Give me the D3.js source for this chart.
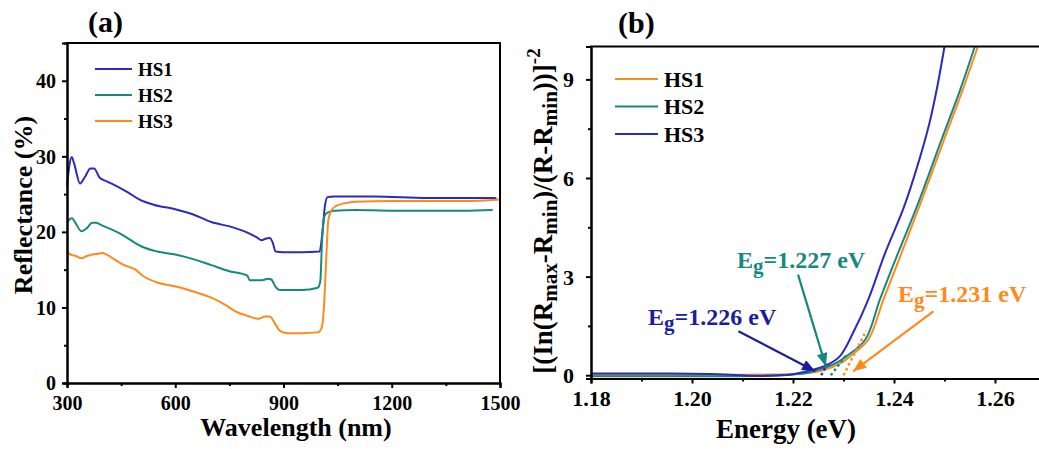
<!DOCTYPE html>
<html>
<head>
<meta charset="utf-8">
<script src="https://cdn.jsdelivr.net/npm/d3@7/dist/d3.min.js"></script>
<style>
  html, body { margin: 0; padding: 0; background: #fff; }
  svg text { font-family: "Liberation Serif", "DejaVu Serif", serif !important; font-weight: bold; }
</style>
</head>
<body>
<svg id="chart" width="1039" height="449"></svg>
<script>
// ── Data: panel (a) reflectance spectra [wavelength nm, R %] ────────────────
const seriesNamesA = ['HS1', 'HS2', 'HS3'];
const hs1Refl = [[300, 26.0], [306, 28.6], [313, 29.9], [320, 29.0], [336, 26.4], [350, 27.3], [365, 28.4],
  [375, 28.4], [390, 27.2], [410, 26.7], [440, 26.0], [470, 25.2], [500, 24.3], [540, 23.6], [600, 23.0],
  [650, 22.3], [700, 21.3], [760, 20.6], [800, 19.9], [825, 19.3], [840, 18.9], [850, 19.1], [862, 19.2],
  [870, 18.6], [878, 17.4], [900, 17.3], [950, 17.3], [1000, 17.4], [1008, 20.0], [1015, 23.5], [1022, 24.6],
  [1040, 24.7], [1150, 24.7], [1300, 24.5], [1400, 24.5], [1490, 24.5]];
const hs2Refl = [[300, 21.2], [308, 21.7], [314, 21.8], [322, 21.3], [340, 20.1], [355, 20.5], [370, 21.2],
  [380, 21.2], [395, 20.9], [420, 20.4], [450, 19.7], [480, 18.8], [510, 18.0], [550, 17.4], [600, 17.0],
  [650, 16.4], [700, 15.6], [750, 14.8], [800, 14.2], [806, 13.6], [840, 13.6], [858, 13.8], [866, 13.7],
  [880, 12.6], [890, 12.3], [950, 12.3], [995, 12.6], [1002, 13.5], [1007, 19.0], [1013, 22.0], [1020, 22.5],
  [1040, 22.8], [1100, 22.9], [1200, 22.8], [1300, 22.8], [1400, 22.8], [1480, 22.9]];
const hs3Refl = [[300, 17.4], [310, 17.0], [325, 16.8], [340, 16.5], [355, 16.8], [370, 17.0], [385, 17.1],
  [400, 17.2], [410, 17.0], [430, 16.4], [450, 15.8], [470, 15.4], [490, 15.0], [510, 14.2], [550, 13.3],
  [600, 12.8], [650, 12.1], [700, 11.3], [740, 10.3], [770, 9.4], [800, 8.9], [830, 8.5], [850, 8.8],
  [862, 8.8], [875, 8.0], [890, 6.9], [910, 6.6], [950, 6.6], [995, 6.7], [1005, 7.2], [1012, 10.0],
  [1018, 16.0], [1024, 21.5], [1032, 22.8], [1045, 23.4], [1070, 23.8], [1100, 24.0], [1200, 24.1],
  [1300, 24.1], [1400, 24.1], [1500, 24.3]];
const wlTicks = [300, 600, 900, 1200, 1500];
const wlMinorTicks = [450, 750, 1050, 1350];
const reflTicks = [0, 10, 20, 30, 40];
const reflMinorTicks = [5, 15, 25, 35];

// ── Data: panel (b) band-gap plot [energy eV, value] ────────────────────────
const seriesNamesB = ['HS1', 'HS2', 'HS3'];
const hs1Gap = [[1.180, 0.01], [1.200, 0.01], [1.215, 0.02], [1.222, 0.05], [1.226, 0.15], [1.2296, 0.38],
  [1.2313, 0.58], [1.2349, 1.08], [1.2379, 2.30], [1.2412, 3.60], [1.2453, 5.25], [1.2499, 7.16],
  [1.2536, 8.68], [1.2566, 10.0]];
const hs2Gap = [[1.180, -0.03], [1.200, -0.03], [1.215, -0.01], [1.222, 0.05], [1.2267, 0.25], [1.2287, 0.38],
  [1.2306, 0.58], [1.2343, 1.08], [1.2372, 2.30], [1.2405, 3.60], [1.2447, 5.20], [1.2494, 7.16],
  [1.2531, 8.68], [1.2560, 10.0]];
const hs3Gap = [[1.180, 0.05], [1.195, 0.05], [1.205, 0.03], [1.212, -0.02], [1.217, -0.01], [1.220, 0.03],
  [1.2240, 0.17], [1.2270, 0.33], [1.2293, 0.58], [1.2319, 1.29], [1.2349, 2.30], [1.2382, 3.70],
  [1.2420, 5.13], [1.2447, 6.40], [1.2470, 7.66], [1.2486, 8.80], [1.2500, 10.0]];
const tangentHs1 = [[1.2300, 0], [1.2345, 1.35]];
const tangentHs2 = [[1.2275, 0], [1.2305, 0.60]];
const tangentHs3 = [[1.2256, 0], [1.2268, 0.35]];
const gapLabels = ['1.231', '1.227', '1.226'];
// annotation text anchor and arrow [from, to], in data units
const labelAt = [[1.2408, 2.24], [1.2089, 3.27], [1.1913, 1.54]];
const arrowFrom = [[1.2478, 1.94], [1.2210, 3.06], [1.2092, 1.34]];
const arrowTo = [[1.2319, 0.12], [1.2265, 0.27], [1.2244, 0.12]];
const energyTicks = [1.18, 1.20, 1.22, 1.24, 1.26];
const energyMinorTicks = [1.19, 1.21, 1.23, 1.25, 1.27];
const gapTicks = [0, 3, 6, 9];
const gapMinorTicks = [1.5, 4.5, 7.5];

// ── Setup ───────────────────────────────────────────────────────────────────
const BLUE = '#2b2bbd', TEAL = '#16897f', ORANGE = '#ff8a1c', BLUE_DARK = '#1d1d9c';
const svg = d3.select('#chart');
const defs = svg.append('defs');

function axisStyle(ax) {
  ax.attr('font-family', null);
  ax.select('.domain').attr('stroke', '#000').attr('stroke-width', 2);
  ax.selectAll('.tick line').attr('stroke', '#000').attr('stroke-width', 2);
}

function drawAxes(g, x, y, o) {
  const [x0, x1] = x.range(), [y0, y1] = y.range();
  g.append('g').attr('transform', `translate(0,${y0})`)
    .call(d3.axisBottom(x).tickValues(o.xMinor).tickSize(3).tickFormat(''))
    .call(axisStyle);
  g.append('g').attr('transform', `translate(${x0},0)`)
    .call(d3.axisLeft(y).tickValues(o.yMinor).tickSize(3).tickFormat(''))
    .call(axisStyle);
  g.append('g').attr('transform', `translate(0,${y0})`)
    .call(d3.axisBottom(x).tickValues(o.xTicks).tickSize(5).tickPadding(o.xPad).tickFormat(o.xFmt))
    .call(axisStyle)
    .call(ax => ax.selectAll('text').attr('fill', '#000').attr('font-size', o.font));
  g.append('g').attr('transform', `translate(${x0},0)`)
    .call(d3.axisLeft(y).tickValues(o.yTicks).tickSize(5).tickPadding(o.yPad).tickFormat(d3.format('d')))
    .call(axisStyle)
    .call(ax => ax.selectAll('text').attr('fill', '#000').attr('font-size', o.font).attr('dy', '0.34em'));
  // frame
  g.append('line').attr('x1', x0 - 1).attr('x2', o.frameRight).attr('y1', y1).attr('y2', y1)
    .attr('stroke', '#000').attr('stroke-width', 2);
  if (o.rightLine) {
    g.append('line').attr('x1', x1).attr('x2', x1).attr('y1', y1).attr('y2', y0)
      .attr('stroke', '#000').attr('stroke-width', 2);
  }
}

function drawLegend(g, names, colors, x, y, gap, len, font) {
  names.forEach((n, i) => {
    const yy = y + i * gap;
    g.append('line').attr('x1', x).attr('x2', x + len).attr('y1', yy).attr('y2', yy)
      .attr('stroke', colors[i]).attr('stroke-width', 2);
    g.append('text').attr('x', x + len + 6).attr('y', yy).attr('dy', '0.35em')
      .attr('font-size', font).attr('fill', '#000').text(n);
  });
}

// ── Panel (a) ───────────────────────────────────────────────────────────────
const xA = d3.scaleLinear().domain([300, 1500]).range([67, 500]);
const yA = d3.scaleLinear().domain([0, 45]).range([383, 43]);
const gA = svg.append('g');
const lineA = d3.line().x(d => xA(d[0])).y(d => yA(d[1])).curve(d3.curveMonotoneX);
const colorsA = [BLUE, TEAL, ORANGE];
[hs1Refl, hs2Refl, hs3Refl].forEach((s, i) => {
  gA.append('path').datum(s).attr('d', lineA)
    .attr('fill', 'none').attr('stroke', colorsA[i]).attr('stroke-width', 2);
});
drawAxes(gA, xA, yA, {
  xTicks: wlTicks, xMinor: wlMinorTicks, yTicks: reflTicks, yMinor: reflMinorTicks,
  xFmt: d3.format('d'), font: 20, xPad: 8, yPad: 6, frameRight: 501, rightLine: true
});
drawLegend(gA, seriesNamesA, colorsA, 95, 69, 26, 37, 19);
gA.append('text').attr('x', 296).attr('y', 436).attr('text-anchor', 'middle')
  .attr('font-size', 26).text('Wavelength (nm)');
gA.append('text').attr('transform', 'translate(32,205) rotate(-90)').attr('text-anchor', 'middle')
  .attr('font-size', 26).text('Reflectance (%)');
gA.append('text').attr('x', 88).attr('y', 32).attr('font-size', 30).text('(a)');

// ── Panel (b) ───────────────────────────────────────────────────────────────
const xB = d3.scaleLinear().domain([1.18, 1.27]).range([591, 1045.5]);
const yB = d3.scaleLinear().domain([-0.1, 10]).range([378.5, 46.5]);
const gB = svg.append('g');
const lineB = d3.line().x(d => xB(d[0])).y(d => yB(d[1])).curve(d3.curveCatmullRom.alpha(0.5));
const colorsB = [ORANGE, TEAL, BLUE];
[hs1Gap, hs2Gap, hs3Gap].forEach((s, i) => {
  gB.append('path').datum(s).attr('d', lineB)
    .attr('fill', 'none').attr('stroke', colorsB[i]).attr('stroke-width', 2);
});
[tangentHs1, tangentHs2, tangentHs3].forEach((s, i) => {
  gB.append('path').datum(s).attr('d', d3.line().x(d => xB(d[0])).y(d => yB(d[1])))
    .attr('fill', 'none').attr('stroke', colorsB[i]).attr('stroke-width', 2.5)
    .attr('stroke-dasharray', '2.5,3');
});
drawAxes(gB, xB, yB, {
  xTicks: energyTicks, xMinor: energyMinorTicks, yTicks: gapTicks, yMinor: gapMinorTicks,
  xFmt: d3.format('.2f'), font: 22, xPad: 7, yPad: 12, frameRight: 1039, rightLine: false
});
drawLegend(gB, seriesNamesB, colorsB, 615, 79, 27.5, 43, 22);

// arrows + labels
const labelColors = [ORANGE, TEAL, BLUE_DARK];
labelColors.forEach((c, i) => {
  defs.append('marker').attr('id', 'arrow' + i).attr('viewBox', '0 0 12 10')
    .attr('refX', 12).attr('refY', 5).attr('markerWidth', 14).attr('markerHeight', 11)
    .attr('markerUnits', 'userSpaceOnUse').attr('orient', 'auto')
    .append('path').attr('d', 'M0,0L12,5L0,10Z').attr('fill', c);
  gB.append('line')
    .attr('x1', xB(arrowFrom[i][0])).attr('y1', yB(arrowFrom[i][1]))
    .attr('x2', xB(arrowTo[i][0])).attr('y2', yB(arrowTo[i][1]))
    .attr('stroke', c).attr('stroke-width', 2.2).attr('marker-end', `url(#arrow${i})`);
  const t = gB.append('text').attr('x', xB(labelAt[i][0])).attr('y', yB(labelAt[i][1]))
    .attr('font-size', 24).attr('fill', c);
  t.append('tspan').text('E');
  t.append('tspan').attr('dy', 5).attr('font-size', 21).text('g');
  t.append('tspan').attr('dy', -5).text(`=${gapLabels[i]} eV`);
});

gB.append('text').attr('x', 786).attr('y', 438).attr('text-anchor', 'middle')
  .attr('font-size', 27).text('Energy (eV)');

// y title with sub/superscripts (dy is relative, so undo each shift)
const yl = gB.append('text').attr('transform', 'translate(552,211) rotate(-90)')
  .attr('text-anchor', 'middle').attr('font-size', 27);
const ylParts = [['[(In(R', 0], ['max', 5], ['-R', -5], ['min', 5], [')/(R-R', -5], ['min', 5], ['))]', -5], ['-2', -12]];
ylParts.forEach(([s, dy]) => {
  const sp = yl.append('tspan').attr('dy', dy).text(s);
  if (dy > 0) sp.attr('font-size', 21);
  if (s === '-2') sp.attr('font-size', 19);
});
gB.append('text').attr('x', 618).attr('y', 33).attr('font-size', 30).text('(b)');
</script>
</body>
</html>
